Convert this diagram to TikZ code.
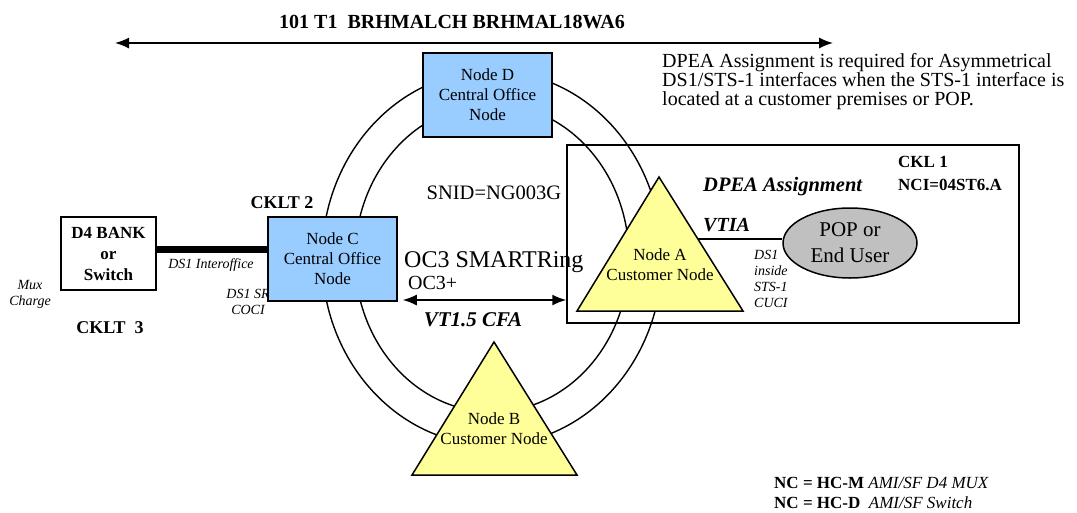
\documentclass[tikz,border=0pt]{standalone}
\usepackage{fontspec}
\setmainfont{Liberation Serif}
\usetikzlibrary{arrows.meta,shapes.geometric}
\definecolor{coblue}{RGB}{153,204,255}
\definecolor{custyellow}{RGB}{255,255,153}
\definecolor{popgray}{RGB}{192,192,192}
\newcommand{\fsz}[2]{\fontsize{#1}{#2}\selectfont}
\tikzset{
  ring/.style={line width=1.4pt},
  conode/.style={draw, fill=coblue, line width=1.5pt, minimum width=129pt, minimum height=84pt, inner sep=0pt, align=center, font=\fsz{17}{20}},
  custri/.style={draw, fill=custyellow, line width=1.5pt, line join=miter},
  custext/.style={inner sep=0pt, align=center, font=\fsz{17}{20}},
  lbl/.style={inner sep=0pt, align=center},
  note/.style={inner sep=0pt, align=center, font=\fsz{14}{16}\itshape},
  span/.style={line width=1.5pt, {Latex[length=14pt,width=11pt]}-{Latex[length=14pt,width=11pt]}}
}
\begin{document}
\begin{tikzpicture}[x=1pt, y=-1pt]
  \useasboundingbox (0,0) rectangle (1077,512);
  \draw [ring] (492,258) ellipse [x radius=170, y radius=187];
  \draw [ring] (492,258) ellipse [x radius=137, y radius=154];
  \node [draw, line width=1.5pt, minimum width=452pt, minimum height=178pt, inner sep=0pt] (ckl) at (793,234) {};

  \coordinate (spanL) at (115,43);
  \coordinate (spanR) at (833,43);
  \draw [span] (spanL) -- (spanR);
  \node [lbl, font=\fsz{20}{24}\bfseries] (title) at (452,22) {101 T1\ \ BRHMALCH BRHMAL18WA6};
  \node [lbl, align=left, anchor=west, font=\fsz{20}{19}] (dpeanote) at (662,82)
    {DPEA Assignment is required for Asymmetrical\\DS1/STS-1 interfaces when the STS-1 interface is\\located at a customer premises or POP.};

  \node [draw, line width=1.5pt, minimum width=95pt, minimum height=73pt, inner sep=0pt, align=center, font=\fsz{17}{21}\bfseries] (d4) at (108.5,253.5) {D4 BANK\\or\\Switch};
  \node [note] (interoffice) at (211,265) {DS1 Interoffice};
  \node [note] (muxcharge) at (30,294) {Mux\\Charge};
  \node [note] (ds1sr) at (248,302) {DS1 SR\\COCI};
  \node [lbl, font=\fsz{18}{20}\bfseries] (cklt3) at (110,328) {CKLT\ \ 3};
  \node [lbl, font=\fsz{18}{20}\bfseries] (cklt2) at (282,203) {CKLT\ 2};

  \node [conode] (nodeC) at (332.5,259) {Node C\\Central Office\\Node};
  \node [conode] (nodeD) at (487.5,95) {Node D\\Central Office\\Node};
  \draw [line width=7pt] (d4.east |- 0,249) -- (nodeC.west |- 0,249);

  \node [lbl, font=\fsz{20.5}{24}] (snid) at (494,193) {SNID=NG003G};
  \node [lbl, anchor=west, font=\fsz{24}{28}] (smartring) at (404,262) {OC3 SMARTRing};
  \node [lbl, anchor=west, font=\fsz{20}{24}] (oc3plus) at (408,283) {OC3+};
  \draw [span, shorten <=5pt] (nodeC.east |- 0,300) -- (ckl.west |- 0,300);
  \node [lbl, font=\fsz{21}{24}\bfseries\itshape] (cfa) at (473,320) {VT1.5 CFA};

  \filldraw [custri] (577,311) -- (659,177) -- (743,311) -- cycle;
  \node [custext] (nodeA) at (660,265) {Node A\\Customer Node};
  \filldraw [custri] (412,475) -- (494,342) -- (577,475) -- cycle;
  \node [custext] (nodeB) at (494,429) {Node B\\Customer Node};

  \node [lbl, anchor=west, font=\fsz{20.5}{24}\bfseries\itshape] (dpea) at (703,187) {DPEA Assignment};
  \node [lbl, anchor=west, font=\fsz{20}{24}\bfseries\itshape] (vtia) at (703,225) {VTIA};
  \node [lbl, anchor=west, align=left, font=\fsz{17}{23}\bfseries] (ckl1) at (898,173.5) {CKL 1\\NCI=04ST6.A};
  \node [draw, ellipse, fill=popgray, line width=1.5pt, minimum width=134pt, minimum height=70pt, inner sep=0pt, align=center, font=\fsz{21}{26}] (pop) at (850,243) {POP or\\End User};
  \coordinate (aport) at (698,239);
  \draw [line width=1.5pt] (aport) -- (pop.west |- aport);
  \node [note, anchor=west, align=left] (cuci) at (754,279) {DS1\\inside\\STS-1\\CUCI};

  \node [lbl, anchor=west, align=left, font=\fsz{17}{20}] (ncodes) at (774,493)
    {\textbf{NC = HC-M} \textit{AMI/SF D4 MUX}\\\textbf{NC = HC-D}\ \ \textit{AMI/SF Switch}};
\end{tikzpicture}
\end{document}
